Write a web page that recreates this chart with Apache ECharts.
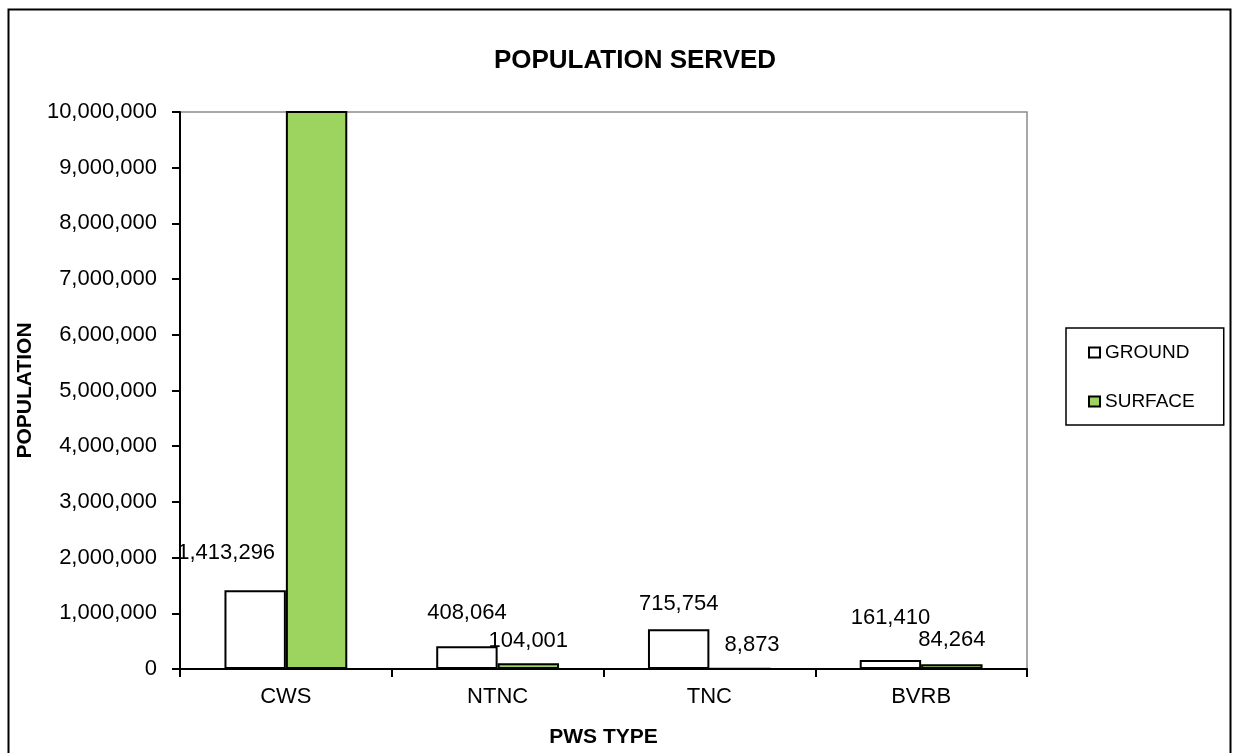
<!DOCTYPE html>
<html>
<head>
<meta charset="utf-8">
<title>Population Served</title>
<script src="https://cdn.jsdelivr.net/npm/echarts@6/dist/echarts.min.js"></script>
<style>
  html, body { margin: 0; padding: 0; background: #fff; }
  #chart { width: 1234px; height: 753px; }
</style>
</head>
<body>
<div id="chart"></div>
<script>
// data
const categories = ['CWS', 'NTNC', 'TNC', 'BVRB']
const groundValues = [1413296, 408064, 715754, 161410]
// CWS surface runs off the top of the axis, no label shown: estimated
const surfaceValues = [13500000, 104001, 8873, 84264]
const yTicks = { min: 0, max: 10000000, interval: 1000000 }

const font = 'Liberation Sans, Arial, sans-serif'
const fmt = v => v.toLocaleString('en-US')

// label nudges, Excel put the labels at uneven heights
const groundLabelOffset = [[-29, -22], [0, -18], [0, -10], [0, -27]]
const surfaceLabelOffset = [null, [0, -7], [12, -8], [0, -9]]

const chart = echarts.init(document.getElementById('chart'))

const makeData = (values, offsets, hideFirst) => values.map((v, i) => ({
  value: v,
  label: (hideFirst && i === 0) ? { show: false } : { offset: offsets[i] || [0, 0] }
}))

const labelStyle = {
  show: true,
  position: 'top',
  distance: 4,
  color: '#000',
  fontSize: 22,
  fontFamily: font,
  formatter: p => fmt(p.value)
}

chart.setOption({
  animation: false,
  textStyle: { fontFamily: font },
  title: {
    text: 'POPULATION SERVED',
    left: 630,
    top: 43,
    textAlign: 'center',
    textStyle: { fontSize: 26, fontWeight: 'bold', color: '#000', fontFamily: font }
  },
  legend: {
    orient: 'vertical',
    left: 1066,
    top: 328,
    padding: [15, 29, 14, 22],
    itemGap: 30,
    itemWidth: 11,
    itemHeight: 10,
    icon: 'rect',
    borderColor: '#000',
    borderWidth: 1.5,
    textStyle: { fontSize: 19, color: '#000', fontFamily: font },
    data: ['GROUND', 'SURFACE']
  },
  graphic: [{
    type: 'rect',
    shape: { x: 8.5, y: 9.5, width: 1222, height: 780 },
    style: { fill: 'none', stroke: '#000', lineWidth: 2 },
    silent: true
  }],
  grid: {
    left: 180,
    top: 112,
    width: 847,
    height: 560,
    show: true,
    borderColor: '#8c8c8c',
    borderWidth: 1.5
  },
  xAxis: {
    type: 'category',
    data: categories,
    name: 'PWS TYPE',
    nameLocation: 'middle',
    nameGap: 58,
    nameTextStyle: { fontSize: 21, fontWeight: 'bold', color: '#000', fontFamily: font },
    axisLine: { lineStyle: { color: '#000', width: 2 } },
    axisTick: { show: true, length: 8, lineStyle: { color: '#000', width: 2 } },
    axisLabel: { color: '#000', fontSize: 22, margin: 17, fontFamily: font },
    splitLine: { show: false }
  },
  yAxis: {
    type: 'value',
    min: yTicks.min,
    max: yTicks.max,
    interval: yTicks.interval,
    name: 'POPULATION',
    nameLocation: 'middle',
    nameGap: 141,
    nameTextStyle: { fontSize: 21, fontWeight: 'bold', color: '#000', fontFamily: font },
    axisLine: { show: true, lineStyle: { color: '#000', width: 2 } },
    axisTick: { show: true, length: 8, lineStyle: { color: '#000', width: 2 } },
    axisLabel: { color: '#000', fontSize: 22, margin: 23, fontFamily: font, formatter: v => fmt(v) },
    splitLine: { show: false }
  },
  series: [
    {
      name: 'GROUND',
      type: 'bar',
      barGap: 0,
      barCategoryGap: '42%',
      data: makeData(groundValues, groundLabelOffset, false),
      itemStyle: { color: '#fff', borderColor: '#000', borderWidth: 2 },
      label: labelStyle
    },
    {
      name: 'SURFACE',
      type: 'bar',
      data: makeData(surfaceValues, surfaceLabelOffset, true),
      itemStyle: { color: '#9dd35f', borderColor: '#000', borderWidth: 2 },
      label: labelStyle
    }
  ]
})
</script>
</body>
</html>
